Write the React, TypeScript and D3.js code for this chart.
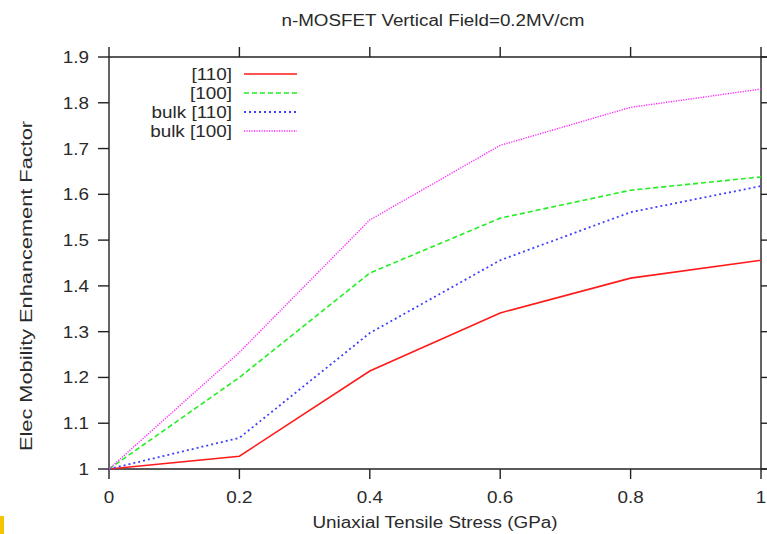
import React from "react";
import * as d3 from "d3";

const stress = [0, 0.2, 0.4, 0.6, 0.8, 1.0];
const s110 = [1.0, 1.028, 1.214, 1.341, 1.417, 1.456];
const s100 = [1.0, 1.2, 1.428, 1.548, 1.609, 1.638];
const bulk110 = [1.0, 1.068, 1.297, 1.456, 1.561, 1.618];
const bulk100 = [1.0, 1.255, 1.544, 1.707, 1.79, 1.83];
const seriesNames = ["[110]", "[100]", "bulk [110]", "bulk [100]"];
const xTicks = [0, 0.2, 0.4, 0.6, 0.8, 1];
const yTicks = [1, 1.1, 1.2, 1.3, 1.4, 1.5, 1.6, 1.7, 1.8, 1.9];

const W = 767, H = 534;
const L = 109, R = 761, T = 57, B = 469;
const FONT = "'Liberation Sans', Arial, sans-serif";
const TXT = "#2a2a2a";
const FS = 16;
const SX = 1.18;

function SText({ x, y, anchor, children }: { x: number; y: number; anchor: string; children: any }) {
  return (
    <text
      transform={`translate(${x},${y}) scale(${SX},1)`}
      textAnchor={anchor}
      fontFamily={FONT}
      fontSize={FS}
      fill={TXT}
    >
      {children}
    </text>
  );
}

export default function App() {
  const x = d3.scaleLinear().domain([0, 1]).range([L, R]);
  const y = d3.scaleLinear().domain([1, 1.9]).range([B, T]);
  const line = d3
    .line<[number, number]>()
    .x((d) => x(d[0]))
    .y((d) => y(d[1]));
  const data = [s110, s100, bulk110, bulk100];
  const styles = [
    { color: "#ff1a1a", dash: "none", w: 1.6 },
    { color: "#22ee22", dash: "5,3", w: 1.6 },
    { color: "#4040ff", dash: "2,3", w: 1.8 },
    { color: "#ff22ff", dash: "1.2,1.3", w: 1.4 },
  ];
  const legendY = [74, 93, 112, 131];
  const axisColor = "#222";
  return (
    <div style={{ position: "absolute", left: 0, top: 0, width: W, height: H, overflow: "hidden" }}>
      <svg width={W} height={H} style={{ display: "block", background: "#fff" }}>
        <rect x={0} y={0} width={W} height={H} fill="#fff" />
        {/* title */}
        <text
          x={433}
          y={26}
          textAnchor="middle"
          fontFamily={FONT}
          fontSize={16}
          fill={TXT}
          textLength={303}
          lengthAdjust="spacingAndGlyphs"
        >
          n-MOSFET Vertical Field=0.2MV/cm
        </text>
        {/* frame */}
        <g stroke={axisColor} strokeWidth={1.4} fill="none">
          <line x1={L} x2={W} y1={T} y2={T} />
          <line x1={L} x2={W} y1={B} y2={B} />
          <line x1={L} x2={L} y1={T} y2={B} />
          <line x1={R} x2={R} y1={T} y2={B} />
          {xTicks.map((t) => (
            <g key={"xt" + t}>
              <line x1={x(t)} x2={x(t)} y1={B} y2={B + 10} />
              <line x1={x(t)} x2={x(t)} y1={T} y2={T - 10} />
            </g>
          ))}
          {yTicks.map((t) => (
            <g key={"yt" + t}>
              <line x1={L} x2={L - 11} y1={y(t)} y2={y(t)} />
              <line x1={R} x2={R + 10} y1={y(t)} y2={y(t)} />
            </g>
          ))}
        </g>
        {/* tick labels */}
        {xTicks.map((t) => (
          <SText key={"xl" + t} x={x(t)} y={503} anchor="middle">
            {d3.format("~g")(t)}
          </SText>
        ))}
        {yTicks.map((t) => (
          <SText key={"yl" + t} x={89} y={y(t) + 6} anchor="end">
            {d3.format("~g")(t)}
          </SText>
        ))}
        {/* axis labels */}
        <text
          x={435}
          y={528}
          textAnchor="middle"
          fontFamily={FONT}
          fontSize={FS}
          fill={TXT}
          textLength={245}
          lengthAdjust="spacingAndGlyphs"
        >
          Uniaxial Tensile Stress (GPa)
        </text>
        <text
          transform={`translate(32,286) rotate(-90)`}
          textAnchor="middle"
          fontFamily={FONT}
          fontSize={FS}
          fill={TXT}
          textLength={330}
          lengthAdjust="spacingAndGlyphs"
        >
          Elec Mobility Enhancement Factor
        </text>
        {/* series */}
        {data.map((vals, i) => (
          <path
            key={"s" + i}
            d={line(stress.map((s, j) => [s, vals[j]] as [number, number])) || ""}
            fill="none"
            stroke={styles[i].color}
            strokeWidth={styles[i].w}
            strokeDasharray={styles[i].dash}
          />
        ))}
        {/* legend */}
        {seriesNames.map((n, i) => (
          <g key={"lg" + i}>
            <SText x={232} y={legendY[i] + 6} anchor="end">
              {n}
            </SText>
            <line
              x1={244}
              x2={297}
              y1={legendY[i]}
              y2={legendY[i]}
              stroke={styles[i].color}
              strokeWidth={styles[i].w}
              strokeDasharray={styles[i].dash}
            />
          </g>
        ))}
        {/* yellow mark */}
        <rect x={0} y={516} width={4} height={18} fill="#f5c400" />
      </svg>
    </div>
  );
}
